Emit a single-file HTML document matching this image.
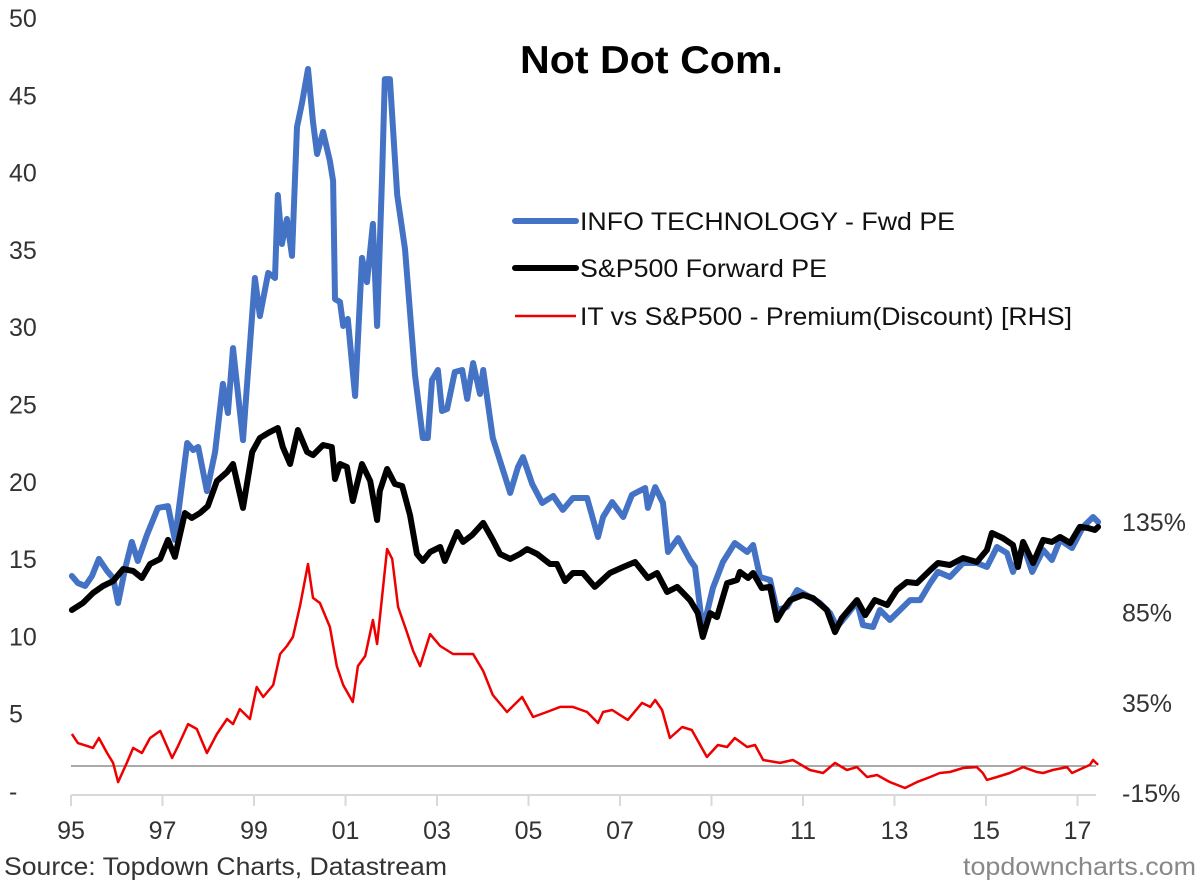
<!DOCTYPE html>
<html><head><meta charset="utf-8"><style>
html,body{margin:0;padding:0;background:#fff;}
svg{display:block;font-family:"Liberation Sans",Arial,sans-serif;}
</style></head><body>
<svg id="chart" width="1200" height="885" viewBox="0 0 1200 885" xmlns="http://www.w3.org/2000/svg">
<text x="520" y="73" font-size="39" font-weight="bold" fill="#000" textLength="263" lengthAdjust="spacingAndGlyphs">Not Dot Com.</text>
<g id="axes"></g>
<g id="series"></g>
<g>
 <line x1="515" y1="221" x2="576" y2="221" stroke="#4472c4" stroke-width="6" stroke-linecap="round"/>
 <text x="580" y="230" font-size="25" fill="#111" textLength="375" lengthAdjust="spacingAndGlyphs">INFO TECHNOLOGY - Fwd PE</text>
 <line x1="515" y1="268" x2="576" y2="268" stroke="#000" stroke-width="6" stroke-linecap="round"/>
 <text x="580" y="277" font-size="25" fill="#111" textLength="247" lengthAdjust="spacingAndGlyphs">S&amp;P500 Forward PE</text>
 <line x1="515" y1="316" x2="576" y2="316" stroke="#e00" stroke-width="2.5"/>
 <text x="580" y="325" font-size="25" fill="#111" textLength="492" lengthAdjust="spacingAndGlyphs">IT vs S&amp;P500 - Premium(Discount) [RHS]</text>
</g>
<text x="4" y="875" font-size="25" fill="#333" textLength="443" lengthAdjust="spacingAndGlyphs">Source: Topdown Charts, Datastream</text>
<text x="963" y="875" font-size="25" fill="#888" textLength="233" lengthAdjust="spacingAndGlyphs">topdowncharts.com</text>
</svg>
<script>
const leftTicks = [0,5,10,15,20,25,30,35,40,45,50];
const leftTickLabels = ["-","5","10","15","20","25","30","35","40","45","50"];
const rightTicks = [-15,35,85,135];
const rightTickLabels = ["-15%","35%","85%","135%"];
const xTicks = [1995,1997,1999,2001,2003,2005,2007,2009,2011,2013,2015,2017];
const xTickLabels = ["95","97","99","01","03","05","07","09","11","13","15","17"];

const itYears = [1995.02,1995.15,1995.31,1995.46,1995.61,1995.79,1995.92,1996.03,1996.18,1996.33,1996.46,1996.66,1996.90,1997.12,1997.27,1997.54,1997.67,1997.78,1997.97,1998.15,1998.32,1998.43,1998.54,1998.76,1998.87,1999.02,1999.13,1999.31,1999.46,1999.52,1999.61,1999.72,1999.83,1999.94,2000.05,2000.18,2000.29,2000.38,2000.51,2000.66,2000.73,2000.77,2000.88,2000.95,2001.05,2001.21,2001.36,2001.47,2001.60,2001.69,2001.80,2001.86,2001.97,2002.13,2002.30,2002.52,2002.69,2002.80,2002.89,2003.02,2003.11,2003.22,2003.39,2003.55,2003.66,2003.79,2003.94,2004.01,2004.22,2004.42,2004.60,2004.77,2004.88,2005.08,2005.30,2005.54,2005.75,2005.97,2006.28,2006.52,2006.63,2006.83,2007.07,2007.26,2007.55,2007.61,2007.77,2007.94,2008.05,2008.27,2008.53,2008.64,2008.81,2009.03,2009.25,2009.51,2009.78,2009.91,2010.06,2010.28,2010.43,2010.65,2010.87,2011.15,2011.37,2011.59,2011.74,2011.96,2012.18,2012.31,2012.53,2012.68,2012.90,2013.12,2013.34,2013.56,2013.78,2013.95,2014.21,2014.50,2014.80,2015.02,2015.24,2015.46,2015.59,2015.81,2016.01,2016.25,2016.44,2016.62,2016.88,2017.12,2017.34,2017.45];
const itValues = [13.91,13.45,13.26,13.91,15.01,14.23,13.78,12.16,14.36,16.11,14.88,16.56,18.31,18.43,16.24,22.51,22.06,22.25,19.40,21.93,26.33,24.45,28.65,22.70,27.23,33.18,30.72,33.51,33.18,38.55,35.38,37.00,34.61,42.95,44.50,46.70,43.27,41.20,42.63,40.75,39.46,31.82,31.63,30.08,30.53,25.55,34.48,32.92,36.68,30.08,39.78,46.05,46.05,38.55,35.06,26.91,22.83,22.83,26.58,27.23,24.58,24.71,27.10,27.23,25.36,27.68,25.68,27.23,22.83,20.96,19.28,20.96,21.60,19.86,18.63,19.08,18.18,18.95,18.95,16.43,17.72,18.69,17.72,19.15,19.60,18.31,19.66,18.63,15.46,16.36,14.94,14.49,10.41,13.13,14.81,16.04,15.46,15.91,13.84,13.65,11.71,11.90,13.00,12.55,12.16,11.51,10.61,11.38,12.23,10.74,10.61,11.71,11.06,11.71,12.35,12.35,13.45,14.17,13.84,14.75,14.75,14.49,15.78,15.39,14.17,15.91,14.17,15.59,14.94,16.24,15.72,17.08,17.72,17.40];

const spYears = [1995.02,1995.26,1995.48,1995.70,1995.92,1996.14,1996.36,1996.55,1996.73,1996.95,1997.12,1997.27,1997.49,1997.64,1997.82,1997.99,1998.19,1998.41,1998.54,1998.76,1998.96,1999.13,1999.31,1999.52,1999.63,1999.79,1999.96,2000.16,2000.29,2000.51,2000.70,2000.77,2000.88,2001.03,2001.16,2001.36,2001.54,2001.69,2001.75,2001.91,2002.08,2002.24,2002.41,2002.56,2002.69,2002.85,2003.07,2003.17,2003.44,2003.57,2003.77,2004.01,2004.22,2004.38,2004.60,2004.81,2004.97,2005.19,2005.47,2005.62,2005.80,2005.97,2006.19,2006.45,2006.78,2007.07,2007.33,2007.61,2007.81,2008.03,2008.25,2008.53,2008.70,2008.81,2008.97,2009.12,2009.34,2009.56,2009.62,2009.80,2009.91,2010.10,2010.28,2010.43,2010.56,2010.72,2011.00,2011.22,2011.52,2011.70,2011.85,2012.18,2012.36,2012.57,2012.84,2013.05,2013.27,2013.49,2013.78,2013.95,2014.21,2014.50,2014.80,2015.02,2015.13,2015.37,2015.59,2015.70,2015.81,2016.03,2016.25,2016.44,2016.62,2016.84,2017.05,2017.23,2017.38,2017.45];
const spValues = [11.71,12.16,12.81,13.26,13.58,14.36,14.23,13.78,14.68,15.01,16.24,15.14,17.98,17.66,17.98,18.43,20.05,20.63,21.15,18.31,21.93,22.83,23.16,23.48,22.25,21.15,23.35,21.93,21.73,22.38,22.25,20.18,21.15,20.96,18.76,21.15,20.05,17.53,19.40,20.83,19.86,19.73,17.85,15.33,14.88,15.46,15.78,14.88,16.75,16.11,16.56,17.34,16.24,15.33,15.01,15.33,15.65,15.33,14.68,14.68,13.58,14.10,14.10,13.20,14.10,14.49,14.81,13.78,14.10,12.87,13.20,12.35,11.51,9.96,11.51,11.25,13.45,13.65,14.17,13.78,14.10,13.13,13.20,11.06,11.71,12.35,12.68,12.48,11.71,10.28,11.19,12.35,11.38,12.35,12.03,13.00,13.52,13.45,14.29,14.75,14.62,15.07,14.81,15.59,16.69,16.36,15.91,14.49,16.11,14.75,16.24,16.11,16.43,16.04,17.08,17.01,16.88,17.08];

const premYears = [1995.02,1995.15,1995.35,1995.48,1995.61,1995.79,1995.92,1996.03,1996.22,1996.36,1996.55,1996.73,1996.95,1997.21,1997.34,1997.56,1997.75,1997.97,1998.19,1998.41,1998.54,1998.69,1998.91,1999.06,1999.20,1999.42,1999.57,1999.72,1999.85,2000.01,2000.18,2000.29,2000.44,2000.66,2000.81,2000.95,2001.16,2001.27,2001.43,2001.60,2001.69,2001.91,2002.02,2002.15,2002.34,2002.48,2002.63,2002.85,2003.07,2003.35,2003.57,2003.79,2004.01,2004.22,2004.53,2004.86,2005.10,2005.40,2005.69,2005.97,2006.28,2006.52,2006.63,2006.83,2007.17,2007.48,2007.66,2007.77,2007.92,2008.09,2008.36,2008.57,2008.90,2009.14,2009.34,2009.51,2009.78,2009.95,2010.13,2010.50,2010.78,2011.15,2011.44,2011.70,2011.96,2012.18,2012.40,2012.62,2012.90,2013.23,2013.49,2013.78,2013.99,2014.21,2014.50,2014.80,2014.93,2015.02,2015.24,2015.52,2015.81,2016.11,2016.25,2016.46,2016.77,2016.88,2017.12,2017.27,2017.34,2017.45];
const premValues = [17.7,12.7,11.1,10.0,15.5,7.2,1.7,-8.9,1.7,10.0,7.2,15.5,19.4,4.4,11.1,23.2,20.5,7.2,17.7,26.0,23.2,31.5,26.0,43.7,38.2,44.8,62.0,66.4,71.4,89.1,111.8,93.0,90.2,76.9,55.3,44.8,35.4,55.3,60.9,80.8,67.5,120.1,114.6,88.0,74.2,63.6,55.3,73.0,66.4,62.0,62.0,62.0,52.6,39.3,29.9,38.2,27.1,29.9,32.7,32.7,29.9,23.8,29.9,31.0,25.5,34.9,32.7,36.5,31.0,15.5,21.6,19.9,5.0,11.6,10.5,15.5,10.5,11.6,3.3,1.7,3.3,-2.2,-3.9,1.7,-2.2,-0.6,-6.1,-5.0,-8.9,-12.2,-8.9,-6.1,-3.9,-3.3,-1.1,-0.6,-3.9,-7.7,-6.1,-3.9,-0.6,-3.3,-3.9,-2.2,-0.6,-3.9,-1.1,0.6,3.3,0.6];

const NS = "http://www.w3.org/2000/svg";
const X0 = 71, PXYR = 45.75;
function xScale(yr){ return X0 + (yr - 1995) * PXYR; }
function yLeft(v){ return 791 - v * 15.46; }
function yRight(p){ return 766 - p * 1.807; }
function mk(tag, attrs, parent){ const e = document.createElementNS(NS, tag); for (const k in attrs) e.setAttribute(k, attrs[k]); parent.appendChild(e); return e; }

const axes = document.getElementById('axes');
const series = document.getElementById('series');

const xAxis = mk('line', {x1: 71, y1: 795, x2: 1096, y2: 795, stroke: '#d9d9d9', 'stroke-width': 2}, axes);


const zl = mk('line', {x1: 71, y1: yRight(0), x2: 1096, y2: yRight(0), stroke: '#555', 'stroke-width': 1}, axes);



xTicks.forEach((t, i) => {
  const x = xScale(t);
  const tk = mk('line', {x1: x, y1: 795, x2: x, y2: 806, stroke: '#d9d9d9', 'stroke-width': 2}, axes);
  
  
  const lb = mk('text', {x: x, y: 839, 'text-anchor': 'middle', 'font-size': 25, fill: '#333'}, axes);
  lb.textContent = xTickLabels[i];
  
  
});
leftTicks.forEach((t, i) => {
  const lb = mk('text', {x: 9, y: yLeft(t) + 9, 'font-size': 25, fill: '#333'}, axes);
  lb.textContent = leftTickLabels[i];
  
  
});
rightTicks.forEach((t, i) => {
  const lb = mk('text', {x: 1122, y: yRight(t) + 9, 'font-size': 25, fill: '#333'}, axes);
  lb.textContent = rightTickLabels[i];
  
  
});

function pathFor(xs, ys, yf){ return xs.map((x, i) => (i ? 'L' : 'M') + xScale(x).toFixed(1) + ',' + yf(ys[i]).toFixed(1)).join(' '); }

const pPrem = mk('path', {d: pathFor(premYears, premValues, yRight), fill: 'none', stroke: '#e00', 'stroke-width': 2.5, 'stroke-linejoin': 'round'}, series);


const pIt = mk('path', {d: pathFor(itYears, itValues, yLeft), fill: 'none', stroke: '#4472c4', 'stroke-width': 6, 'stroke-linejoin': 'round', 'stroke-linecap': 'round'}, series);


const pSp = mk('path', {d: pathFor(spYears, spValues, yLeft), fill: 'none', stroke: '#000', 'stroke-width': 6, 'stroke-linejoin': 'round', 'stroke-linecap': 'round'}, series);


</script>
</body></html>
